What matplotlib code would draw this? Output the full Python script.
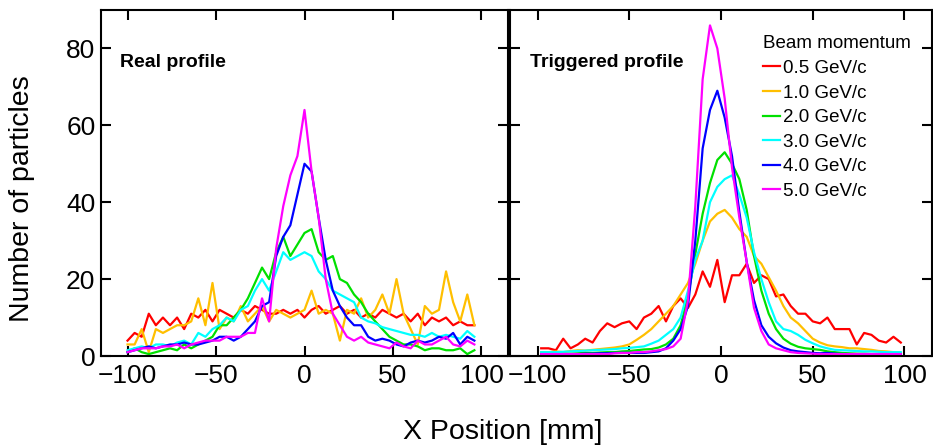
import numpy as np
import matplotlib
matplotlib.use('Agg')
import matplotlib.pyplot as plt

plt.rcParams['font.family'] = ['Liberation Sans', 'DejaVu Sans']

# beam momenta and their colours
momenta = ['0.5 GeV/c', '1.0 GeV/c', '2.0 GeV/c', '3.0 GeV/c', '4.0 GeV/c', '5.0 GeV/c']
colors = ['#ff0000', '#ffbf00', '#00e000', '#00ffff', '#0000ff', '#ff00ff']

# x positions [mm] of the bins
x_real = np.arange(-100, 97, 4)
x_trig = np.arange(-98, 99, 4)

# real profile (left panel)
real_05 = [4, 6, 5, 11, 8, 10, 8, 10, 7, 11,
           10, 12, 9, 12, 11, 10, 12, 11, 13, 12,
           11, 11, 12, 11, 12, 10, 12, 13, 11, 12,
           13, 11, 12, 10, 11, 10, 12, 11, 10, 11,
           9, 11, 8, 10, 9, 10, 8, 9, 8, 8]
real_10 = [3, 3, 7, 1, 7, 6, 7, 8, 8, 9,
           15, 8, 19, 7, 10, 9, 13, 9, 11, 13,
           9, 12, 11, 10, 11, 12, 17, 11, 12, 11,
           4, 12, 11, 15, 10, 12, 16, 11, 20, 11,
           7, 3, 13, 11, 12, 22, 14, 9, 16, 8]
real_20 = [1, 2, 1, 0.5, 1, 1.5, 2, 1.5, 3, 2,
           3, 4, 5, 8, 8, 10, 12, 15, 19, 23,
           20, 27, 31, 26, 29, 32, 33, 27, 25, 26,
           20, 19, 16, 14, 11, 9, 7, 5, 4, 3,
           3, 2.5, 1.5, 2, 2, 1.5, 1.5, 2, 0.5, 1.5]
real_30 = [1.5, 2, 2.5, 2, 3, 3, 2.5, 3.5, 4, 3,
           6, 5, 7, 8, 10, 9, 12, 13, 17, 20,
           17, 22, 27, 25, 26, 27, 26, 22, 20, 17,
           16, 15, 14, 10, 9, 8.5, 7.5, 7, 6.5, 6,
           5.5, 5.5, 5, 6, 5, 5.5, 5, 4.5, 6.5, 5]
real_40 = [1, 1.5, 2, 2.5, 2, 2.5, 3, 3, 3.5, 3,
           3, 3.5, 4, 5, 5, 4, 5, 7, 9, 13,
           14, 26, 31, 34, 42, 50, 48, 36, 25, 17,
           13, 10, 8, 8, 5, 4, 4.5, 4, 3, 2.5,
           3.5, 4, 3.5, 4, 5, 4.5, 6, 3, 5, 4]
real_50 = [1, 1.5, 2, 2, 2, 2.5, 2.5, 3, 2, 3,
           3.5, 4, 4, 4, 5, 5, 5, 6, 6, 15,
           9, 28, 39, 47, 52, 64, 48, 36, 20, 11,
           8, 5, 4, 5, 3.5, 3, 2.5, 2, 3.5, 2.5,
           2, 4, 3, 3, 4, 5, 3, 2.5, 4, 3]

# triggered profile (right panel)
trig_05 = [2, 2, 1.5, 4.5, 2, 3, 4.5, 3.5, 6.5, 8.5,
           7.5, 8.5, 9, 7, 10, 11, 13, 9, 13, 15,
           12.5, 16, 22, 18, 25, 14, 21, 21, 24, 19,
           21, 20, 15.5, 16, 13, 11, 11, 9, 8.5, 10,
           7, 7, 7, 3, 6, 5.5, 4, 3.5, 5, 3.5]
trig_10 = [1, 1, 1.2, 1, 1.3, 1.5, 1.4, 1.6, 1.8, 2,
           2.2, 2.5, 3, 4.2, 5.5, 7, 9, 11, 13, 16,
           19, 24, 30, 35, 37, 38, 36, 33, 31, 26,
           24, 20.5, 17, 13, 10, 8.5, 6.5, 4.5, 3.5, 2.8,
           2.5, 2.3, 2, 2, 1.8, 1.6, 1.3, 1.2, 1, 0.8]
trig_20 = [0.5, 0.5, 0.5, 0.5, 0.6, 0.7, 0.8, 0.8, 0.9, 1,
           1, 1.2, 1.3, 1.5, 1.7, 1.8, 2.2, 3, 4.5, 8,
           15.5, 26.5, 37, 45, 51, 53, 50, 46, 38, 26,
           17, 11, 7, 4.5, 3.2, 2.4, 2, 1.8, 1.6, 1.2,
           1, 0.8, 0.7, 0.6, 0.6, 0.5, 0.5, 0.5, 0.5, 0.5]
trig_30 = [1, 1, 1, 1.1, 1.2, 1.3, 1.4, 1.5, 1.6, 1.7,
           1.8, 2, 2.1, 2.3, 2.5, 3.2, 4, 5.5, 7, 10,
           17, 25, 30, 40, 44, 46, 47, 42, 36, 27,
           20, 14, 9, 7, 6.5, 5.5, 4.2, 3.3, 2.5, 2,
           1.6, 1.5, 1.4, 1.3, 1.2, 1.2, 1.1, 1, 1, 1]
trig_40 = [0.5, 0.5, 0.5, 0.5, 0.5, 0.5, 0.6, 0.6, 0.7, 0.7,
           0.8, 0.8, 0.8, 0.8, 0.8, 1, 1.2, 2, 4, 7,
           13, 30, 54, 64, 69, 62, 52, 37.5, 24.5, 14.5,
           8, 5, 3.3, 2.2, 1.5, 1.2, 1, 0.8, 0.7, 0.8,
           0.6, 0.5, 0.5, 0.5, 0.5, 0.5, 0.5, 0.5, 0.5, 0.5]
trig_50 = [0.5, 0.5, 0.5, 0.5, 0.5, 0.5, 0.5, 0.5, 0.5, 0.5,
           0.7, 0.8, 0.8, 1, 1, 1.2, 1.5, 1.8, 2.5, 4.5,
           14.5, 39, 72, 86, 80, 67, 49, 36, 24.5, 12.5,
           6.5, 3, 2, 1.5, 1, 0.8, 0.7, 0.6, 0.5, 0.5,
           0.5, 0.5, 0.5, 0.5, 0.5, 0.5, 0.5, 0.5, 0.5, 0.5]

real = [real_05, real_10, real_20, real_30, real_40, real_50]
trig = [trig_05, trig_10, trig_20, trig_30, trig_40, trig_50]

W, H = 933, 448
fig = plt.figure(figsize=(W / 100, H / 100), dpi=100)
ax1 = fig.add_axes([101 / W, 92 / H, 407 / W, 346 / H])
ax2 = fig.add_axes([510 / W, 92 / H, 422 / W, 346 / H])

for ys, c, lab in zip(real, colors, momenta):
    ax1.plot(x_real, ys, color=c, lw=1.6, label=lab)
for ys, c, lab in zip(trig, colors, momenta):
    ax2.plot(x_trig, ys, color=c, lw=1.6, label=lab)

for ax in (ax1, ax2):
    ax.set_xlim(-115, 115)
    ax.set_ylim(0, 90)
    ax.set_xticks([-100, -50, 0, 50, 100])
    ax.set_yticks([0, 20, 40, 60, 80])
    ax.tick_params(direction='in', top=True, right=True, length=7, width=1.5,
                   labelsize=19)
    ax.tick_params(axis='x', pad=6)
    ax.tick_params(axis='y', pad=4)
    for s in ax.spines.values():
        s.set_linewidth(1.5)
ax2.tick_params(labelleft=False)

ax1.text(0.047, 0.847, 'Real profile', transform=ax1.transAxes,
         fontsize=14, fontweight='bold', va='center')
ax2.text(0.047, 0.847, 'Triggered profile', transform=ax2.transAxes,
         fontsize=14, fontweight='bold', va='center')

leg = ax2.legend(title='Beam momentum', loc='upper left', bbox_to_anchor=(0.599, 0.927),
                 frameon=False, fontsize=13.5, title_fontsize=13.5, handlelength=0.9,
                 handletextpad=0.2, labelspacing=0.4, borderpad=0, borderaxespad=0,
                 alignment='left')

fig.text(22 / W, 1 - 199 / H, 'Number of particles', rotation=90,
         fontsize=20.5, ha='center', va='center')
fig.text(503 / W, 1 - 432 / H, 'X Position [mm]', fontsize=20.5,
         ha='center', va='center')

fig.savefig('out.png', dpi=100)
